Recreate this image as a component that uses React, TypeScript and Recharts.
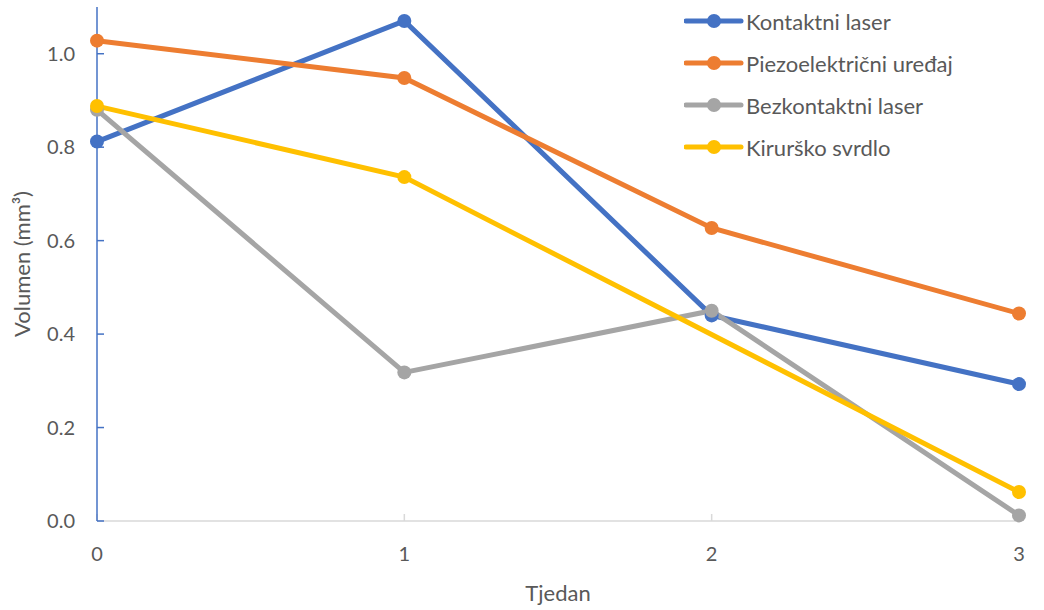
import React from 'react';
import { LineChart, Line, XAxis, YAxis, Legend, Label } from 'recharts';

// weeks
const weeks = [0, 1, 2, 3];
const kontaktni = [0.812, 1.07, 0.44, 0.293];
const piezo = [1.028, 0.948, 0.627, 0.444];
const bezkontaktni = [0.88, 0.318, 0.45, 0.012];
const svrdlo = [0.888, 0.736, null, 0.062];
const yTicks = [0, 0.2, 0.4, 0.6, 0.8, 1.0];

const series = [
  { key: 'kontaktni', name: 'Kontaktni laser', color: '#4472C4' },
  { key: 'piezo', name: 'Piezoelektrični uređaj', color: '#ED7D31' },
  { key: 'bezkontaktni', name: 'Bezkontaktni laser', color: '#A5A5A5' },
  { key: 'svrdlo', name: 'Kirurško svrdlo', color: '#FFC000' },
];

const data = weeks.map((w, i) => ({
  week: w,
  kontaktni: kontaktni[i],
  piezo: piezo[i],
  bezkontaktni: bezkontaktni[i],
  svrdlo: svrdlo[i],
}));

const FONT = 'Lato, "Noto Sans", sans-serif';
const TEXT = '#595959';

const LegendBox = () => (
  <div style={{ fontFamily: FONT, fontSize: 22, color: TEXT, whiteSpace: 'nowrap', width: 340 }}>
    {series.map((s) => (
      <div key={s.key} style={{ display: 'flex', alignItems: 'center', height: 42 }}>
        <svg width={62} height={16}>
          <line x1={2} y1={8} x2={57} y2={8} stroke={s.color} strokeWidth={5} strokeLinecap="round" />
          <circle cx={30} cy={8} r={7} fill={s.color} />
        </svg>
        <span>{s.name}</span>
      </div>
    ))}
  </div>
);

export default function App() {
  return (
    <div style={{ position: 'absolute', left: 0, top: 0, background: '#fff' }}>
      <LineChart width={1044} height={610} data={data} margin={{ top: 7, right: 25, bottom: 9, left: 0 }}>
        <XAxis
          dataKey="week"
          type="number"
          domain={[0, 3]}
          ticks={weeks}
          height={80}
          stroke="#D9D9D9"
          strokeWidth={1.5}
          tickSize={-7}
          tickMargin={33}
          tick={{ fill: TEXT, fontSize: 20, fontFamily: FONT }}
        >
          <Label value="Tjedan" position="insideBottom" offset={0} style={{ fill: TEXT, fontSize: 22, fontFamily: FONT }} />
        </XAxis>
        <YAxis
          type="number"
          domain={[0, 1.1]}
          ticks={yTicks}
          width={97}
          stroke="#4472C4"
          strokeWidth={1.5}
          tickSize={-7}
          tickMargin={29}
          tickFormatter={(v: number) => v.toFixed(1)}
          tick={{ fill: TEXT, fontSize: 20, fontFamily: FONT }}
        >
          <Label
            value="Volumen (mm³)"
            angle={-90}
            position="insideLeft"
            offset={22}
            style={{ fill: TEXT, fontSize: 22, fontFamily: FONT, textAnchor: 'middle' }}
          />
        </YAxis>
        <Legend
          content={<LegendBox />}
          wrapperStyle={{ position: 'absolute', left: 684, top: 0, width: 0, height: 0, overflow: 'visible' }}
        />
        {series.map((s) => (
          <Line
            key={s.key}
            type="linear"
            dataKey={s.key}
            name={s.name}
            stroke={s.color}
            strokeWidth={5}
            dot={{ r: 7, fill: s.color, stroke: s.color, strokeWidth: 0 }}
            connectNulls
            isAnimationActive={false}
          />
        ))}
      </LineChart>
    </div>
  );
}
